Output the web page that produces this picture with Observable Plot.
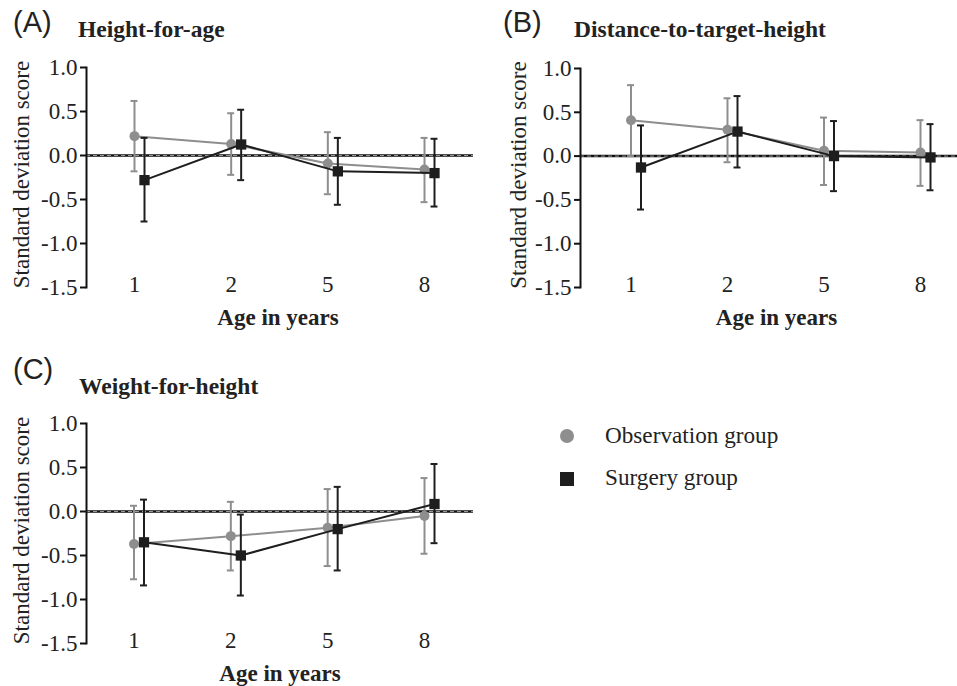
<!DOCTYPE html>
<html><head><meta charset="utf-8">
<script src="https://cdn.jsdelivr.net/npm/d3@7"></script>
<script src="https://cdn.jsdelivr.net/npm/@observablehq/plot@0.6"></script>
<style>
body{margin:0;background:#fff;}
#root{position:relative;width:957px;height:686px;overflow:hidden;font-family:"Liberation Serif","Times New Roman",serif;color:#222;}
.panel{position:absolute;}
.panel svg text{font-family:"Liberation Serif","Times New Roman",serif;}
.letter{position:absolute;font-family:"Liberation Sans",Arial,sans-serif;font-size:29px;line-height:29px;white-space:nowrap;}
.title{position:absolute;font-weight:bold;font-size:23.5px;line-height:23.5px;white-space:nowrap;}
.legtext{position:absolute;font-size:23.2px;line-height:23.2px;white-space:nowrap;}
</style></head><body><div id="root"></div>
<script>
// ---------- data ----------
const ages = ["1", "2", "5", "8"];
const groups = ["Observation group", "Surgery group"];
const yTicks = [-1.5, -1.0, -0.5, 0.0, 0.5, 1.0];
const yLabel = "Standard deviation score";
const xLabel = "Age in years";

// (A) Height-for-age
const hfaObsMean = [0.22, 0.13, -0.09, -0.16];
const hfaObsLow  = [-0.18, -0.22, -0.44, -0.53];
const hfaObsHigh = [0.62, 0.48, 0.265, 0.20];
const hfaSurMean = [-0.28, 0.125, -0.18, -0.20];
const hfaSurLow  = [-0.75, -0.28, -0.56, -0.58];
const hfaSurHigh = [0.20, 0.52, 0.20, 0.19];

// (B) Distance-to-target-height
const dthObsMean = [0.41, 0.30, 0.06, 0.04];
const dthObsLow  = [0.00, -0.07, -0.33, -0.34];
const dthObsHigh = [0.81, 0.66, 0.44, 0.41];
const dthSurMean = [-0.13, 0.28, 0.00, -0.015];
const dthSurLow  = [-0.61, -0.13, -0.40, -0.39];
const dthSurHigh = [0.35, 0.685, 0.40, 0.365];

// (C) Weight-for-height
const wfhObsMean = [-0.37, -0.28, -0.185, -0.05];
const wfhObsLow  = [-0.77, -0.67, -0.62, -0.48];
const wfhObsHigh = [0.065, 0.11, 0.255, 0.38];
const wfhSurMean = [-0.35, -0.50, -0.20, 0.085];
const wfhSurLow  = [-0.84, -0.955, -0.67, -0.36];
const wfhSurHigh = [0.135, -0.035, 0.28, 0.54];

// ---------- styles ----------
const GRAY = "#8e8e8e", BLACK = "#1e1e1e";
const CAP = 0.036;
const SERIF = '"Liberation Serif","Times New Roman",serif';
const FS = 23;

function rows(mean, low, high) {
  return ages.map((a, i) => ({i, age: a, mean: mean[i], lo: low[i], hi: high[i]}));
}

function groupMarks(data, color, symbol, r, dx) {
  return [
    Plot.ruleX(data, {x: "i", y1: "lo", y2: "hi", stroke: color, strokeWidth: 2, dx}),
    Plot.ruleY(data, {y: "hi", x1: d => d.i - CAP, x2: d => d.i + CAP, stroke: color, strokeWidth: 2, dx}),
    Plot.ruleY(data, {y: "lo", x1: d => d.i - CAP, x2: d => d.i + CAP, stroke: color, strokeWidth: 2, dx}),
    Plot.line(data, {x: "i", y: "mean", stroke: color, strokeWidth: 2, dx}),
    Plot.dot(data, {x: "i", y: "mean", fill: color, stroke: "none", r, symbol, dx})
  ];
}

function panel(cfg) {
  const obs = rows(cfg.obs[0], cfg.obs[1], cfg.obs[2]);
  const sur = rows(cfg.sur[0], cfg.sur[1], cfg.sur[2]);
  const chart = Plot.plot({
    width: cfg.width, height: cfg.height,
    marginLeft: cfg.ml, marginRight: cfg.mr, marginTop: cfg.mt, marginBottom: cfg.mb,
    style: {fontFamily: SERIF, fontSize: FS + "px", color: "#222", background: "transparent", overflow: "visible"},
    x: {domain: [0, ages.length - 1], range: cfg.xr},
    y: {domain: [-1.5, 1.0]},
    marks: [
      Plot.ruleY([0], {stroke: "#111", strokeWidth: 2.5}),
      Plot.ruleY([0], {stroke: "#9a9a9a", strokeWidth: 1, strokeDasharray: "4,3"}),
      Plot.frame({anchor: "left", stroke: "#111", strokeWidth: 2}),
      Plot.axisY({ticks: yTicks, tickFormat: d => d.toFixed(1), tickSize: 6, tickPadding: 3, strokeWidth: 2, stroke: "#111", label: null, fontSize: FS, fontFamily: SERIF, fill: "#222"}),
      Plot.axisX(ages.map((a, i) => i), {tickSize: 0, tickPadding: 0, tickFormat: i => ages[i], lineAnchor: "middle", dy: -3, label: null, fontSize: FS, fontFamily: SERIF, fill: "#222"}),
      Plot.text([yLabel], {frameAnchor: "left", textAnchor: "middle", rotate: -90, dx: cfg.ylx, dy: -3, fontSize: FS, fontFamily: SERIF, lineAnchor: "middle", fill: "#222"}),
      Plot.text([xLabel], {frameAnchor: "bottom", textAnchor: "middle", dy: 30, dx: cfg.xlx, fontSize: FS, fontFamily: SERIF, fontWeight: "bold", lineAnchor: "middle", fill: "#222"}),
      ...groupMarks(obs, GRAY, "circle", 5, 0),
      ...groupMarks(sur, BLACK, "square", 5.8, 10)
    ]
  });
  const div = document.createElement("div");
  div.className = "panel";
  div.style.left = cfg.left + "px";
  div.style.top = cfg.top + "px";
  div.appendChild(chart);
  return div;
}

const root = document.getElementById("root");
root.appendChild(panel({left: 0, top: 0, width: 480, height: 340, ml: 86, mr: 7, mt: 67, mb: 53, xr: [134, 424], ylx: -64.5, xlx: -2,
  obs: [hfaObsMean, hfaObsLow, hfaObsHigh], sur: [hfaSurMean, hfaSurLow, hfaSurHigh]}));
root.appendChild(panel({left: 480, top: 0, width: 477, height: 340, ml: 100, mr: 0, mt: 68, mb: 53, xr: [150.5, 440], ylx: -61.5, xlx: 7.5,
  obs: [dthObsMean, dthObsLow, dthObsHigh], sur: [dthSurMean, dthSurLow, dthSurHigh]}));
root.appendChild(panel({left: 0, top: 340, width: 480, height: 346, ml: 86, mr: 7, mt: 83, mb: 43, xr: [133.5, 424], ylx: -64.5, xlx: 0,
  obs: [wfhObsMean, wfhObsLow, wfhObsHigh], sur: [wfhSurMean, wfhSurLow, wfhSurHigh]}));

// titles
const titles = [
  {cls: "letter", text: "(A)", left: 13, top: 8},
  {cls: "title", text: "Height-for-age", left: 78, top: 17.5},
  {cls: "letter", text: "(B)", left: 503, top: 8},
  {cls: "title", text: "Distance-to-target-height", left: 574, top: 17.5},
  {cls: "letter", text: "(C)", left: 13, top: 355},
  {cls: "title", text: "Weight-for-height", left: 79, top: 374.5}
];
for (const t of titles) {
  const d = document.createElement("div");
  d.className = t.cls; d.textContent = t.text;
  d.style.left = t.left + "px"; d.style.top = t.top + "px";
  root.appendChild(d);
}

// legend
const leg = document.createElement("div");
leg.style.position = "absolute"; leg.style.left = "0px"; leg.style.top = "0px";
const ns = "http://www.w3.org/2000/svg";
const lsvg = document.createElementNS(ns, "svg");
lsvg.setAttribute("width", 957); lsvg.setAttribute("height", 686);
lsvg.style.position = "absolute"; lsvg.style.left = "0"; lsvg.style.top = "0";
const c = document.createElementNS(ns, "circle");
c.setAttribute("cx", 567); c.setAttribute("cy", 436); c.setAttribute("r", 7); c.setAttribute("fill", GRAY);
const s = document.createElementNS(ns, "rect");
s.setAttribute("x", 560); s.setAttribute("y", 472); s.setAttribute("width", 14); s.setAttribute("height", 14); s.setAttribute("fill", BLACK);
lsvg.appendChild(c); lsvg.appendChild(s);
leg.appendChild(lsvg);
root.appendChild(leg);
groups.forEach((g, k) => {
  const d = document.createElement("div");
  d.className = "legtext"; d.textContent = g;
  d.style.left = "605px"; d.style.top = (k === 0 ? 423.5 : 465.5) + "px";
  root.appendChild(d);
});
</script>
</body></html>
